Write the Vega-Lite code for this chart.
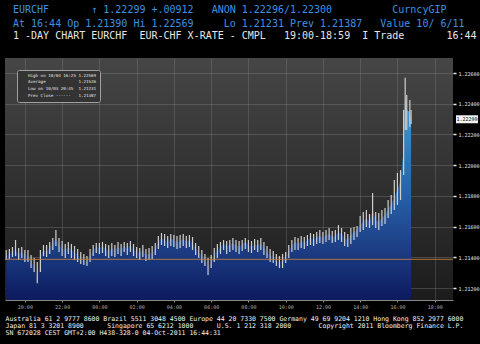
{
  "$schema": "https://vega.github.io/schema/vega-lite/v6.json",
  "width": 448,
  "height": 242,
  "autosize": {"type": "none"},
  "padding": {"left": 5, "top": 58, "right": 27, "bottom": 44},
  "background": "#000000",
  "config": {
    "font": "DejaVu Sans Mono",
    "view": {"stroke": null, "fill": {"gradient": "linear", "x1": 0, "y1": 0, "x2": 0, "y2": 1, "stops": [{"offset": 0, "color": "#464646"}, {"offset": 1, "color": "#1c1c1c"}]}}
  },
  "title": {
    "text": ["EURCHF\u00a0\u00a0\u00a0\u00a0\u00a0\u00a0\u00a0↑\u00a01.22299\u00a0+.00912\u00a0\u00a0\u00a0ANON\u00a01.22296/1.22300\u00a0\u00a0\u00a0\u00a0\u00a0\u00a0\u00a0\u00a0\u00a0\u00a0CurncyGIP", "At\u00a016:44\u00a0Op\u00a01.21390\u00a0Hi\u00a01.22569\u00a0\u00a0\u00a0\u00a0\u00a0Lo\u00a01.21231\u00a0Prev\u00a01.21387\u00a0\u00a0\u00a0Value\u00a010/\u00a06/11"],
    "subtitle": "1\u00a0-DAY\u00a0CHART\u00a0EURCHF\u00a0\u00a0EUR-CHF\u00a0X-RATE\u00a0-\u00a0CMPL\u00a0\u00a0\u00a019:00-18:59\u00a0\u00a0I\u00a0Trade\u00a0\u00a0\u00a0\u00a0\u00a0\u00a0\u00a016:44",
    "anchor": "start",
    "frame": "group",
    "dx": 8,
    "offset": 17,
    "font": "DejaVu Sans Mono",
    "fontSize": 10,
    "fontWeight": "normal",
    "color": "#3e92e0",
    "lineHeight": 14,
    "subtitleFont": "DejaVu Sans Mono",
    "subtitleFontSize": 10,
    "subtitleColor": "#e6e6e6",
    "subtitlePadding": 2
  },
  "datasets": {
    "px": [
      {"t": "2011-10-03T19:00Z", "c": 1.21408, "h": 1.21448, "l": 1.21382},
      {"t": "2011-10-03T19:10Z", "c": 1.21422, "h": 1.21454, "l": 1.21389},
      {"t": "2011-10-03T19:20Z", "c": 1.21435, "h": 1.21467, "l": 1.21402},
      {"t": "2011-10-03T19:30Z", "c": 1.21448, "h": 1.21513, "l": 1.21408},
      {"t": "2011-10-03T19:40Z", "c": 1.21422, "h": 1.21461, "l": 1.21382},
      {"t": "2011-10-03T19:50Z", "c": 1.21435, "h": 1.21467, "l": 1.21395},
      {"t": "2011-10-03T20:00Z", "c": 1.21415, "h": 1.21448, "l": 1.21369},
      {"t": "2011-10-03T20:10Z", "c": 1.21408, "h": 1.21448, "l": 1.21369},
      {"t": "2011-10-03T20:20Z", "c": 1.21369, "h": 1.21415, "l": 1.2133},
      {"t": "2011-10-03T20:30Z", "c": 1.21343, "h": 1.21395, "l": 1.21304},
      {"t": "2011-10-03T20:40Z", "c": 1.21265, "h": 1.21369, "l": 1.21231},
      {"t": "2011-10-03T20:50Z", "c": 1.21408, "h": 1.21448, "l": 1.21304},
      {"t": "2011-10-03T21:00Z", "c": 1.21448, "h": 1.2148, "l": 1.21408},
      {"t": "2011-10-03T21:10Z", "c": 1.21435, "h": 1.2148, "l": 1.21402},
      {"t": "2011-10-03T21:20Z", "c": 1.21467, "h": 1.215, "l": 1.21422},
      {"t": "2011-10-03T21:30Z", "c": 1.21487, "h": 1.21526, "l": 1.21448},
      {"t": "2011-10-03T21:40Z", "c": 1.21526, "h": 1.21578, "l": 1.21474},
      {"t": "2011-10-03T21:50Z", "c": 1.2148, "h": 1.21526, "l": 1.21435},
      {"t": "2011-10-03T22:00Z", "c": 1.21461, "h": 1.21506, "l": 1.21408},
      {"t": "2011-10-03T22:10Z", "c": 1.21448, "h": 1.21487, "l": 1.21395},
      {"t": "2011-10-03T22:20Z", "c": 1.21467, "h": 1.215, "l": 1.21422},
      {"t": "2011-10-03T22:30Z", "c": 1.21448, "h": 1.21487, "l": 1.21395},
      {"t": "2011-10-03T22:40Z", "c": 1.21435, "h": 1.21474, "l": 1.21382},
      {"t": "2011-10-03T22:50Z", "c": 1.21415, "h": 1.21454, "l": 1.21369},
      {"t": "2011-10-03T23:00Z", "c": 1.21395, "h": 1.21435, "l": 1.21356},
      {"t": "2011-10-03T23:10Z", "c": 1.21382, "h": 1.21422, "l": 1.2135},
      {"t": "2011-10-03T23:20Z", "c": 1.21369, "h": 1.21408, "l": 1.21343},
      {"t": "2011-10-03T23:30Z", "c": 1.21408, "h": 1.21454, "l": 1.21369},
      {"t": "2011-10-03T23:40Z", "c": 1.21448, "h": 1.2148, "l": 1.21408},
      {"t": "2011-10-03T23:50Z", "c": 1.21467, "h": 1.21493, "l": 1.21428},
      {"t": "2011-10-04T00:00Z", "c": 1.21461, "h": 1.21493, "l": 1.21422},
      {"t": "2011-10-04T00:10Z", "c": 1.21474, "h": 1.215, "l": 1.21428},
      {"t": "2011-10-04T00:20Z", "c": 1.21454, "h": 1.21487, "l": 1.21408},
      {"t": "2011-10-04T00:30Z", "c": 1.21441, "h": 1.2148, "l": 1.21395},
      {"t": "2011-10-04T00:40Z", "c": 1.21461, "h": 1.21493, "l": 1.21408},
      {"t": "2011-10-04T00:50Z", "c": 1.21448, "h": 1.2148, "l": 1.21402},
      {"t": "2011-10-04T01:00Z", "c": 1.21467, "h": 1.215, "l": 1.21422},
      {"t": "2011-10-04T01:10Z", "c": 1.21448, "h": 1.21487, "l": 1.21408},
      {"t": "2011-10-04T01:20Z", "c": 1.21474, "h": 1.215, "l": 1.21435},
      {"t": "2011-10-04T01:30Z", "c": 1.21461, "h": 1.21493, "l": 1.21415},
      {"t": "2011-10-04T01:40Z", "c": 1.2148, "h": 1.21506, "l": 1.21435},
      {"t": "2011-10-04T01:50Z", "c": 1.21454, "h": 1.21487, "l": 1.21408},
      {"t": "2011-10-04T02:00Z", "c": 1.21435, "h": 1.21467, "l": 1.21395},
      {"t": "2011-10-04T02:10Z", "c": 1.21428, "h": 1.21461, "l": 1.21382},
      {"t": "2011-10-04T02:20Z", "c": 1.21448, "h": 1.2148, "l": 1.21402},
      {"t": "2011-10-04T02:30Z", "c": 1.21415, "h": 1.21454, "l": 1.21376},
      {"t": "2011-10-04T02:40Z", "c": 1.21422, "h": 1.21461, "l": 1.21382},
      {"t": "2011-10-04T02:50Z", "c": 1.21428, "h": 1.21474, "l": 1.21389},
      {"t": "2011-10-04T03:00Z", "c": 1.21461, "h": 1.21493, "l": 1.21415},
      {"t": "2011-10-04T03:10Z", "c": 1.215, "h": 1.21539, "l": 1.21454},
      {"t": "2011-10-04T03:20Z", "c": 1.21526, "h": 1.21558, "l": 1.2148},
      {"t": "2011-10-04T03:30Z", "c": 1.21513, "h": 1.21552, "l": 1.21474},
      {"t": "2011-10-04T03:40Z", "c": 1.215, "h": 1.21539, "l": 1.21461},
      {"t": "2011-10-04T03:50Z", "c": 1.21526, "h": 1.21552, "l": 1.21474},
      {"t": "2011-10-04T04:00Z", "c": 1.21513, "h": 1.21545, "l": 1.21467},
      {"t": "2011-10-04T04:10Z", "c": 1.21493, "h": 1.21539, "l": 1.21454},
      {"t": "2011-10-04T04:20Z", "c": 1.21506, "h": 1.21545, "l": 1.21461},
      {"t": "2011-10-04T04:30Z", "c": 1.21519, "h": 1.21552, "l": 1.21474},
      {"t": "2011-10-04T04:40Z", "c": 1.215, "h": 1.21539, "l": 1.21461},
      {"t": "2011-10-04T04:50Z", "c": 1.21513, "h": 1.21545, "l": 1.21467},
      {"t": "2011-10-04T05:00Z", "c": 1.21493, "h": 1.21532, "l": 1.21448},
      {"t": "2011-10-04T05:10Z", "c": 1.21461, "h": 1.21493, "l": 1.21415},
      {"t": "2011-10-04T05:20Z", "c": 1.21435, "h": 1.21474, "l": 1.21395},
      {"t": "2011-10-04T05:30Z", "c": 1.21408, "h": 1.21448, "l": 1.21363},
      {"t": "2011-10-04T05:40Z", "c": 1.21382, "h": 1.21422, "l": 1.21343},
      {"t": "2011-10-04T05:50Z", "c": 1.21343, "h": 1.21395, "l": 1.21285},
      {"t": "2011-10-04T06:00Z", "c": 1.21369, "h": 1.21415, "l": 1.2133},
      {"t": "2011-10-04T06:10Z", "c": 1.21415, "h": 1.21461, "l": 1.21369},
      {"t": "2011-10-04T06:20Z", "c": 1.21448, "h": 1.21487, "l": 1.21395},
      {"t": "2011-10-04T06:30Z", "c": 1.21467, "h": 1.215, "l": 1.21422},
      {"t": "2011-10-04T06:40Z", "c": 1.21487, "h": 1.21513, "l": 1.21448},
      {"t": "2011-10-04T06:50Z", "c": 1.21474, "h": 1.21506, "l": 1.21422},
      {"t": "2011-10-04T07:00Z", "c": 1.2148, "h": 1.21513, "l": 1.21435},
      {"t": "2011-10-04T07:10Z", "c": 1.21493, "h": 1.21526, "l": 1.21448},
      {"t": "2011-10-04T07:20Z", "c": 1.2148, "h": 1.21513, "l": 1.21435},
      {"t": "2011-10-04T07:30Z", "c": 1.21467, "h": 1.21506, "l": 1.21422},
      {"t": "2011-10-04T07:40Z", "c": 1.21487, "h": 1.21513, "l": 1.21441},
      {"t": "2011-10-04T07:50Z", "c": 1.215, "h": 1.21526, "l": 1.21454},
      {"t": "2011-10-04T08:00Z", "c": 1.2148, "h": 1.21513, "l": 1.21435},
      {"t": "2011-10-04T08:10Z", "c": 1.21467, "h": 1.21506, "l": 1.21428},
      {"t": "2011-10-04T08:20Z", "c": 1.21487, "h": 1.21519, "l": 1.21448},
      {"t": "2011-10-04T08:30Z", "c": 1.21474, "h": 1.21513, "l": 1.21435},
      {"t": "2011-10-04T08:40Z", "c": 1.21493, "h": 1.21526, "l": 1.21448},
      {"t": "2011-10-04T08:50Z", "c": 1.21461, "h": 1.215, "l": 1.21415},
      {"t": "2011-10-04T09:00Z", "c": 1.21435, "h": 1.21474, "l": 1.21395},
      {"t": "2011-10-04T09:10Z", "c": 1.21415, "h": 1.21454, "l": 1.21369},
      {"t": "2011-10-04T09:20Z", "c": 1.21402, "h": 1.21441, "l": 1.21363},
      {"t": "2011-10-04T09:30Z", "c": 1.21382, "h": 1.21422, "l": 1.21343},
      {"t": "2011-10-04T09:40Z", "c": 1.21363, "h": 1.21408, "l": 1.2133},
      {"t": "2011-10-04T09:50Z", "c": 1.21382, "h": 1.21422, "l": 1.2133},
      {"t": "2011-10-04T10:00Z", "c": 1.21402, "h": 1.21435, "l": 1.21363},
      {"t": "2011-10-04T10:10Z", "c": 1.21435, "h": 1.2148, "l": 1.21395},
      {"t": "2011-10-04T10:20Z", "c": 1.21474, "h": 1.21513, "l": 1.21435},
      {"t": "2011-10-04T10:30Z", "c": 1.215, "h": 1.21532, "l": 1.21448},
      {"t": "2011-10-04T10:40Z", "c": 1.21487, "h": 1.21526, "l": 1.21448},
      {"t": "2011-10-04T10:50Z", "c": 1.21506, "h": 1.21539, "l": 1.21461},
      {"t": "2011-10-04T11:00Z", "c": 1.21493, "h": 1.21532, "l": 1.21454},
      {"t": "2011-10-04T11:10Z", "c": 1.21513, "h": 1.21545, "l": 1.21474},
      {"t": "2011-10-04T11:20Z", "c": 1.21526, "h": 1.21558, "l": 1.2148},
      {"t": "2011-10-04T11:30Z", "c": 1.21513, "h": 1.21552, "l": 1.21474},
      {"t": "2011-10-04T11:40Z", "c": 1.21532, "h": 1.21565, "l": 1.21487},
      {"t": "2011-10-04T11:50Z", "c": 1.21539, "h": 1.21578, "l": 1.21493},
      {"t": "2011-10-04T12:00Z", "c": 1.21526, "h": 1.21565, "l": 1.21487},
      {"t": "2011-10-04T12:10Z", "c": 1.21545, "h": 1.21578, "l": 1.215},
      {"t": "2011-10-04T12:20Z", "c": 1.21552, "h": 1.21591, "l": 1.21513},
      {"t": "2011-10-04T12:30Z", "c": 1.21532, "h": 1.21571, "l": 1.21493},
      {"t": "2011-10-04T12:40Z", "c": 1.21539, "h": 1.21578, "l": 1.215},
      {"t": "2011-10-04T12:50Z", "c": 1.21565, "h": 1.2161, "l": 1.21513},
      {"t": "2011-10-04T13:00Z", "c": 1.21552, "h": 1.21591, "l": 1.215},
      {"t": "2011-10-04T13:10Z", "c": 1.21526, "h": 1.21565, "l": 1.21474},
      {"t": "2011-10-04T13:20Z", "c": 1.21513, "h": 1.21552, "l": 1.21467},
      {"t": "2011-10-04T13:30Z", "c": 1.21545, "h": 1.21591, "l": 1.21487},
      {"t": "2011-10-04T13:40Z", "c": 1.21565, "h": 1.21597, "l": 1.21513},
      {"t": "2011-10-04T13:50Z", "c": 1.21578, "h": 1.21604, "l": 1.21532},
      {"t": "2011-10-04T14:00Z", "c": 1.2161, "h": 1.21669, "l": 1.21565},
      {"t": "2011-10-04T14:10Z", "c": 1.2163, "h": 1.21695, "l": 1.21578},
      {"t": "2011-10-04T14:20Z", "c": 1.21656, "h": 1.21708, "l": 1.21597},
      {"t": "2011-10-04T14:30Z", "c": 1.2163, "h": 1.21682, "l": 1.21591},
      {"t": "2011-10-04T14:40Z", "c": 1.21708, "h": 1.21819, "l": 1.2161},
      {"t": "2011-10-04T14:50Z", "c": 1.21643, "h": 1.21695, "l": 1.21591},
      {"t": "2011-10-04T15:00Z", "c": 1.2163, "h": 1.21689, "l": 1.21578},
      {"t": "2011-10-04T15:10Z", "c": 1.21656, "h": 1.21708, "l": 1.21604},
      {"t": "2011-10-04T15:20Z", "c": 1.21675, "h": 1.21721, "l": 1.21617},
      {"t": "2011-10-04T15:30Z", "c": 1.21708, "h": 1.21773, "l": 1.21656},
      {"t": "2011-10-04T15:40Z", "c": 1.21747, "h": 1.21806, "l": 1.21682},
      {"t": "2011-10-04T15:50Z", "c": 1.21786, "h": 1.21903, "l": 1.21708},
      {"t": "2011-10-04T16:00Z", "c": 1.21838, "h": 1.21949, "l": 1.21741},
      {"t": "2011-10-04T16:10Z", "c": 1.21903, "h": 1.21968, "l": 1.21773},
      {"t": "2011-10-04T16:20Z", "c": 1.22099, "h": 1.22359, "l": 1.21936},
      {"t": "2011-10-04T16:25Z", "c": 1.22457, "h": 1.22569, "l": 1.22229},
      {"t": "2011-10-04T16:30Z", "c": 1.22359, "h": 1.22457, "l": 1.22229},
      {"t": "2011-10-04T16:40Z", "c": 1.22346, "h": 1.22424, "l": 1.22248},
      {"t": "2011-10-04T16:44Z", "c": 1.22299, "h": 1.22359, "l": 1.22268}
    ],
    "stats": [
      {"stat": "High", "label": "High on 10/04 16:25 1.22569", "v": 1.22569},
      {"stat": "Average", "label": "Average\u00a0\u00a0\u00a0\u00a0\u00a0\u00a0\u00a0\u00a0\u00a0\u00a0\u00a0\u00a0\u00a01.21526", "v": 1.21526},
      {"stat": "Low", "label": "Low on 10/03 20:45\u00a0\u00a01.21231", "v": 1.21231},
      {"stat": "Prev Close", "label": "Prev Close ------\u00a0\u00a0\u00a01.21387", "v": 1.21387}
    ],
    "last": [{"price": 1.22299}]
  },
  "layer": [
    {
      "data": {"name": "px"},
      "mark": {"type": "area", "color": {"gradient": "linear", "x1": 0, "y1": 0, "x2": 0, "y2": 1, "stops": [{"offset": 0, "color": "#46a2d4"}, {"offset": 0.3, "color": "#2f78b5"}, {"offset": 0.55, "color": "#2458a0"}, {"offset": 0.72, "color": "#1e4288"}, {"offset": 0.85, "color": "#163076"}, {"offset": 1, "color": "#0d1a5e"}]}},
      "encoding": {
        "x": {
          "field": "t", "type": "temporal",
          "scale": {"type": "utc", "domain": [{"year": 2011, "month": 10, "date": 3, "hours": 18, "minutes": 56, "utc": true}, {"year": 2011, "month": 10, "date": 4, "hours": 18, "minutes": 59, "utc": true}]},
          "axis": {
            "labelExpr": "utcFormat(datum.value, '%H:%M')",
            "labelOverlap": false,
            "tickCount": 20,
            "values": [
              {"year": 2011, "month": 10, "date": 3, "hours": 20, "utc": true},
              {"year": 2011, "month": 10, "date": 3, "hours": 22, "utc": true},
              {"year": 2011, "month": 10, "date": 4, "hours": 0, "utc": true},
              {"year": 2011, "month": 10, "date": 4, "hours": 2, "utc": true},
              {"year": 2011, "month": 10, "date": 4, "hours": 4, "utc": true},
              {"year": 2011, "month": 10, "date": 4, "hours": 6, "utc": true},
              {"year": 2011, "month": 10, "date": 4, "hours": 8, "utc": true},
              {"year": 2011, "month": 10, "date": 4, "hours": 10, "utc": true},
              {"year": 2011, "month": 10, "date": 4, "hours": 12, "utc": true},
              {"year": 2011, "month": 10, "date": 4, "hours": 14, "utc": true},
              {"year": 2011, "month": 10, "date": 4, "hours": 16, "utc": true},
              {"year": 2011, "month": 10, "date": 4, "hours": 18, "utc": true}
            ],
            "labelFont": "DejaVu Sans Mono", "labelFontSize": 5, "labelColor": "#b0b0b0", "labelPadding": 2,
            "tickSize": 2, "tickColor": "#888888", "domainColor": "#888888",
            "grid": true, "gridColor": "#8a8a8a", "gridOpacity": 0.3,
            "title": ["Australia 61 2 9777 8600 Brazil 5511 3048 4500 Europe 44 20 7330 7500 Germany 49 69 9204 1210 Hong Kong 852 2977 6000", "Japan 81 3 3201 8900\u00a0\u00a0\u00a0\u00a0\u00a0\u00a0Singapore 65 6212 1000\u00a0\u00a0\u00a0\u00a0\u00a0\u00a0U.S. 1 212 318 2000\u00a0\u00a0\u00a0\u00a0\u00a0\u00a0\u00a0Copyright 2011 Bloomberg Finance L.P.", "\u00a0\u00a0\u00a0\u00a0\u00a0\u00a0\u00a0\u00a0\u00a0\u00a0\u00a0\u00a0\u00a0\u00a0\u00a0\u00a0\u00a0\u00a0\u00a0\u00a0\u00a0\u00a0\u00a0\u00a0\u00a0\u00a0\u00a0\u00a0\u00a0\u00a0\u00a0\u00a0\u00a0\u00a0\u00a0\u00a0\u00a0\u00a0\u00a0\u00a0\u00a0\u00a0\u00a0\u00a0\u00a0\u00a0\u00a0\u00a0\u00a0\u00a0\u00a0\u00a0\u00a0\u00a0\u00a0\u00a0\u00a0\u00a0\u00a0\u00a0\u00a0\u00a0SN 672028 CEST GMT+2:00 H438-328-0 04-Oct-2011 16:44:31"],
            "titleFont": "DejaVu Sans Mono", "titleFontSize": 6.5, "titleFontWeight": "normal", "titleColor": "#f0f0f0",
            "titleAnchor": "start", "titleAlign": "left", "titlePadding": 6, "titleLineHeight": 7.3
          }
        },
        "y": {
          "field": "c", "type": "quantitative",
          "scale": {"domain": [1.21122, 1.22698], "zero": false, "nice": false},
          "axis": {
            "orient": "right", "values": [1.212, 1.214, 1.216, 1.218, 1.22, 1.222, 1.224, 1.226], "tickCount": 20,
            "labelExpr": "format(datum.value, '.5f')", "labelOverlap": false,
            "labelFont": "DejaVu Sans Mono", "labelFontSize": 5, "labelColor": "#e8e8e8", "labelPadding": 2,
            "tickColor": "#e8e8e8", "tickSize": 3, "tickWidth": 1.5, "domain": false,
            "grid": true, "gridColor": "#8a8a8a", "gridOpacity": 0.35, "title": null
          }
        },
        "y2": {"datum": 1.21122}
      }
    },
    {
      "data": {"name": "px"},
      "mark": {"type": "rule", "color": "#cfcfcf", "strokeWidth": 1.2},
      "encoding": {
        "x": {"field": "t", "type": "temporal"},
        "y": {"field": "l", "type": "quantitative"},
        "y2": {"field": "h"}
      }
    },
    {
      "data": {"name": "stats"},
      "transform": [{"filter": "datum.stat === 'Prev Close'"}],
      "mark": {"type": "rule", "color": "#c8803c", "strokeWidth": 1, "opacity": 0.85},
      "encoding": {
        "y": {"field": "v", "type": "quantitative"}
      }
    },
    {
      "data": {"name": "stats"},
      "mark": {"type": "point", "filled": true, "opacity": 0},
      "encoding": {
        "y": {"field": "v", "type": "quantitative"},
        "color": {
          "field": "label", "type": "nominal",
          "scale": {"domain": ["High on 10/04 16:25 1.22569", "Average\u00a0\u00a0\u00a0\u00a0\u00a0\u00a0\u00a0\u00a0\u00a0\u00a0\u00a0\u00a0\u00a01.21526", "Low on 10/03 20:45\u00a0\u00a01.21231", "Prev Close ------\u00a0\u00a0\u00a01.21387"], "range": ["#e8e8e8", "#e8e8e8", "#e8e8e8", "#f09a30"]},
          "legend": {
            "title": null, "orient": "top-left", "offset": 12, "padding": 3,
            "fillColor": "#333333", "strokeColor": "#a0a0a0", "cornerRadius": 2,
            "labelFont": "DejaVu Sans Mono", "labelFontSize": 4.2, "labelColor": "#e6e6e6", "labelOffset": 3,
            "symbolSize": 25, "symbolStrokeWidth": 0, "symbolOpacity": 1, "rowPadding": 1.8
          }
        },
        "shape": {
          "field": "label", "type": "nominal",
          "scale": {"domain": ["High on 10/04 16:25 1.22569", "Average\u00a0\u00a0\u00a0\u00a0\u00a0\u00a0\u00a0\u00a0\u00a0\u00a0\u00a0\u00a0\u00a01.21526", "Low on 10/03 20:45\u00a0\u00a01.21231", "Prev Close ------\u00a0\u00a0\u00a01.21387"], "range": ["M-0.25,-1H0.25V1H-0.25Z", "M-0.4,-0.4H0.4V0.4H-0.4Z", "M-0.25,-1H0.25V1H-0.25Z", "M-1,-1H1V1H-1Z"]}
        }
      }
    },
    {
      "data": {"name": "last"},
      "mark": {"type": "point", "filled": true, "opacity": 1, "color": "#f2f2f2", "shape": "M-2.75,-1H2.75V1H-2.75Z", "size": 64},
      "encoding": {
        "x": {"datum": {"year": 2011, "month": 10, "date": 4, "hours": 19, "minutes": 44, "utc": true}, "type": "temporal"},
        "y": {"field": "price", "type": "quantitative"}
      }
    },
    {
      "data": {"name": "last"},
      "mark": {"type": "text", "color": "#000000", "font": "DejaVu Sans Mono", "fontSize": 5, "align": "center", "baseline": "middle"},
      "encoding": {
        "x": {"datum": {"year": 2011, "month": 10, "date": 4, "hours": 19, "minutes": 44, "utc": true}, "type": "temporal"},
        "y": {"field": "price", "type": "quantitative"},
        "text": {"field": "price", "type": "quantitative", "format": ".5f"}
      }
    }
  ]
}
